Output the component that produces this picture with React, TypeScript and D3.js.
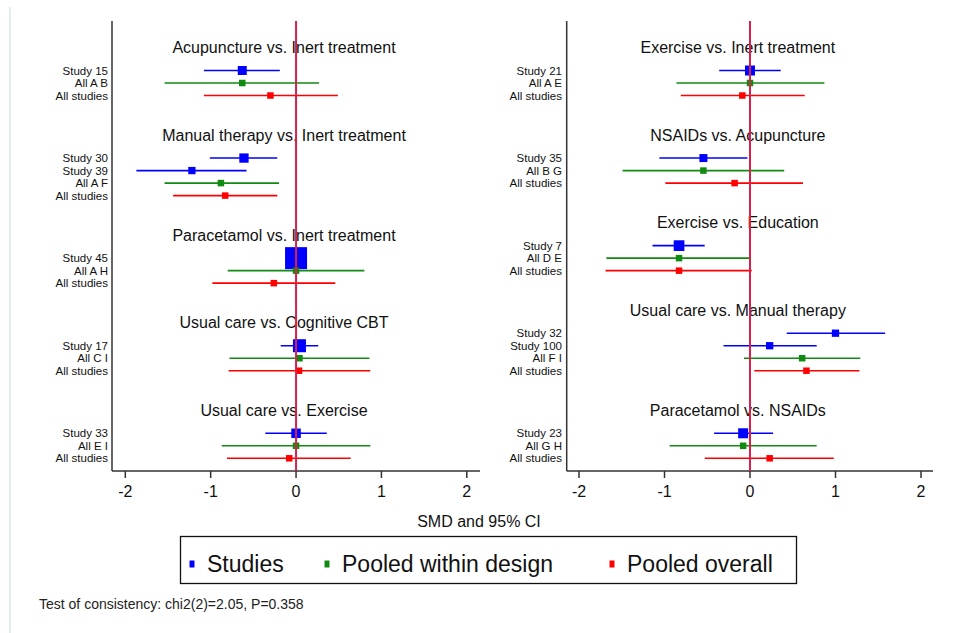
import React from "react";
import * as d3 from "d3";

const comparisons = [
  "Acupuncture vs. Inert treatment",
  "Manual therapy vs. Inert treatment",
  "Paracetamol vs. Inert treatment",
  "Usual care vs. Cognitive CBT",
  "Usual care vs. Exercise",
  "Exercise vs. Inert treatment",
  "NSAIDs vs. Acupuncture",
  "Exercise vs. Education",
  "Usual care vs. Manual therapy",
  "Paracetamol vs. NSAIDs",
];
const comparisonPanel = [0, 0, 0, 0, 0, 1, 1, 1, 1, 1];

const rowComparison = [0, 0, 0, 1, 1, 1, 1, 2, 2, 2, 3, 3, 3, 4, 4, 4, 5, 5, 5, 6, 6, 6, 7, 7, 7, 8, 8, 8, 8, 9, 9, 9];
const rowLabels = [
  "Study 15", "All A B", "All studies",
  "Study 30", "Study 39", "All A F", "All studies",
  "Study 45", "All A H", "All studies",
  "Study 17", "All C I", "All studies",
  "Study 33", "All E I", "All studies",
  "Study 21", "All A E", "All studies",
  "Study 35", "All B G", "All studies",
  "Study 7", "All D E", "All studies",
  "Study 32", "Study 100", "All F I", "All studies",
  "Study 23", "All G H", "All studies",
];
const rowKinds = [
  "S", "W", "O",
  "S", "S", "W", "O",
  "S", "W", "O",
  "S", "W", "O",
  "S", "W", "O",
  "S", "W", "O",
  "S", "W", "O",
  "S", "W", "O",
  "S", "S", "W", "O",
  "S", "W", "O",
];
const rowEst = [
  -0.63, -0.63, -0.3,
  -0.61, -1.22, -0.88, -0.83,
  0.0, 0.0, -0.26,
  0.04, 0.04, 0.035,
  0.0, 0.0, -0.08,
  0.0, 0.0, -0.09,
  -0.545, -0.545, -0.18,
  -0.83, -0.83, -0.83,
  1.0, 0.23, 0.61, 0.66,
  -0.08, -0.08, 0.23,
];
const rowLow = [
  -1.08, -1.54, -1.08,
  -1.01, -1.87, -1.54, -1.44,
  -0.08, -0.8, -0.98,
  -0.18, -0.78, -0.79,
  -0.36, -0.87, -0.81,
  -0.36, -0.86, -0.81,
  -1.06, -1.49, -0.99,
  -1.14, -1.68, -1.69,
  0.43, -0.31, -0.07, 0.05,
  -0.42, -0.94, -0.53,
];
const rowHigh = [
  -0.19, 0.27, 0.49,
  -0.22, -0.58, -0.2, -0.22,
  0.08, 0.8, 0.46,
  0.26, 0.86, 0.87,
  0.36, 0.87, 0.64,
  0.36, 0.87, 0.64,
  -0.03, 0.4, 0.62,
  -0.53, 0.01, 0.02,
  1.58, 0.78, 1.29, 1.28,
  0.27, 0.78, 0.98,
];
const rowWeight = [
  16.7, 0, 0,
  17.9, 11, 0, 0,
  100, 0, 0,
  35, 0, 0,
  18.6, 0, 0,
  20.7, 0, 0,
  13.2, 0, 0,
  23.6, 0, 0,
  11, 11, 0, 0,
  20.7, 0, 0,
];
const xTicks = [-2, -1, 0, 1, 2];
const legendLabels = ["Studies", "Pooled within design", "Pooled overall"];
const xTitle = "SMD and 95% CI";
const footer = "Test of consistency: chi2(2)=2.05, P=0.358";

const COLORS: Record<string, string> = { S: "#0000ff", W: "#108a10", O: "#ff0000" };
const FONT = "'Liberation Sans', Arial, Helvetica, sans-serif";

const panels = [
  { axisX: 112, x0: 125.3, x1: 466.8, axisEnd: 480, labelX: 108 },
  { axisX: 566.7, x0: 579, x1: 921, axisEnd: 933, labelX: 562 },
];
const TOP = 21;
const BOTTOM = 471;

export default function App() {
  const yScale = d3.scaleLinear().domain([0, 31]).range([70.5, 458.3]);
  const sizeScale = d3.scaleSqrt().domain([0, 100]).range([0, 22]);

  const rowIndex: number[] = new Array(rowLabels.length).fill(0);
  const titleRow: number[] = new Array(comparisons.length).fill(0);
  [0, 1].forEach((p) => {
    let counter = 0;
    comparisons.forEach((_, c) => {
      if (comparisonPanel[c] !== p) return;
      titleRow[c] = counter;
      rowComparison.forEach((rc, i) => {
        if (rc === c) {
          rowIndex[i] = counter;
          counter += 1;
        }
      });
      counter += 4;
    });
  });

  return (
    <svg
      width={954}
      height={633}
      style={{ position: "absolute", left: 0, top: 0, background: "#fff" }}
      fontFamily={FONT}
    >
      <rect x={0} y={0} width={954} height={633} fill="#fff" />
      <line x1={10} x2={10} y1={7} y2={633} stroke="#e4eeee" strokeWidth={2} />
      {panels.map((pn, p) => {
        const x = d3.scaleLinear().domain([-2, 2]).range([pn.x0, pn.x1]);
        const titleX = (pn.axisX + pn.axisEnd) / 2 - 12;
        return (
          <g key={p}>
            <line x1={pn.axisX} x2={pn.axisX} y1={TOP} y2={BOTTOM} stroke="#333" strokeWidth={1.5} />
            <line x1={pn.axisX} x2={pn.axisEnd} y1={BOTTOM} y2={BOTTOM} stroke="#333" strokeWidth={1.5} />
            {xTicks.map((t) => (
              <g key={t}>
                <line x1={x(t)} x2={x(t)} y1={BOTTOM} y2={BOTTOM + 7} stroke="#333" strokeWidth={1.5} />
                <text x={x(t)} y={497} fontSize={16} textAnchor="middle" fill="#111">
                  {t}
                </text>
              </g>
            ))}
            {comparisons.map((c, ci) =>
              comparisonPanel[ci] === p ? (
                <text
                  key={c}
                  x={titleX}
                  y={yScale(titleRow[ci]) - 23}
                  fontSize={16}
                  textAnchor="middle"
                  dominantBaseline="central"
                  fill="#111"
                >
                  {c}
                </text>
              ) : null
            )}
            {rowLabels.map((lab, i) => {
              if (comparisonPanel[rowComparison[i]] !== p) return null;
              const y = yScale(rowIndex[i]);
              const col = COLORS[rowKinds[i]];
              const s = rowKinds[i] === "S" ? sizeScale(rowWeight[i]) : 6.5;
              return (
                <g key={i}>
                  <text
                    x={pn.labelX}
                    y={y}
                    fontSize={11.5}
                    textAnchor="end"
                    dominantBaseline="central"
                    fill="#111"
                  >
                    {lab}
                  </text>
                  <line x1={x(rowLow[i])} x2={x(rowHigh[i])} y1={y} y2={y} stroke={col} strokeWidth={1.6} />
                  <rect x={x(rowEst[i]) - s / 2} y={y - s / 2} width={s} height={s} fill={col} />
                </g>
              );
            })}
            <line x1={x(0)} x2={x(0)} y1={TOP} y2={BOTTOM} stroke="#d8204a" strokeWidth={2} />
          </g>
        );
      })}
      <text x={479} y={527} fontSize={16} textAnchor="middle" fill="#111">
        {xTitle}
      </text>
      <rect x={180.5} y={536.5} width={616} height={47} fill="none" stroke="#111" strokeWidth={1.3} />
      {legendLabels.map((l, i) => {
        const mx = [192, 327, 612][i];
        const col = COLORS[["S", "W", "O"][i]];
        return (
          <g key={l}>
            <rect x={mx - 2.5} y={560.5} width={5} height={7} fill={col} />
            <text x={mx + 15} y={572} fontSize={23} fill="#111">
              {l}
            </text>
          </g>
        );
      })}
      <text x={39} y={609} fontSize={14} fill="#222">
        {footer}
      </text>
    </svg>
  );
}
